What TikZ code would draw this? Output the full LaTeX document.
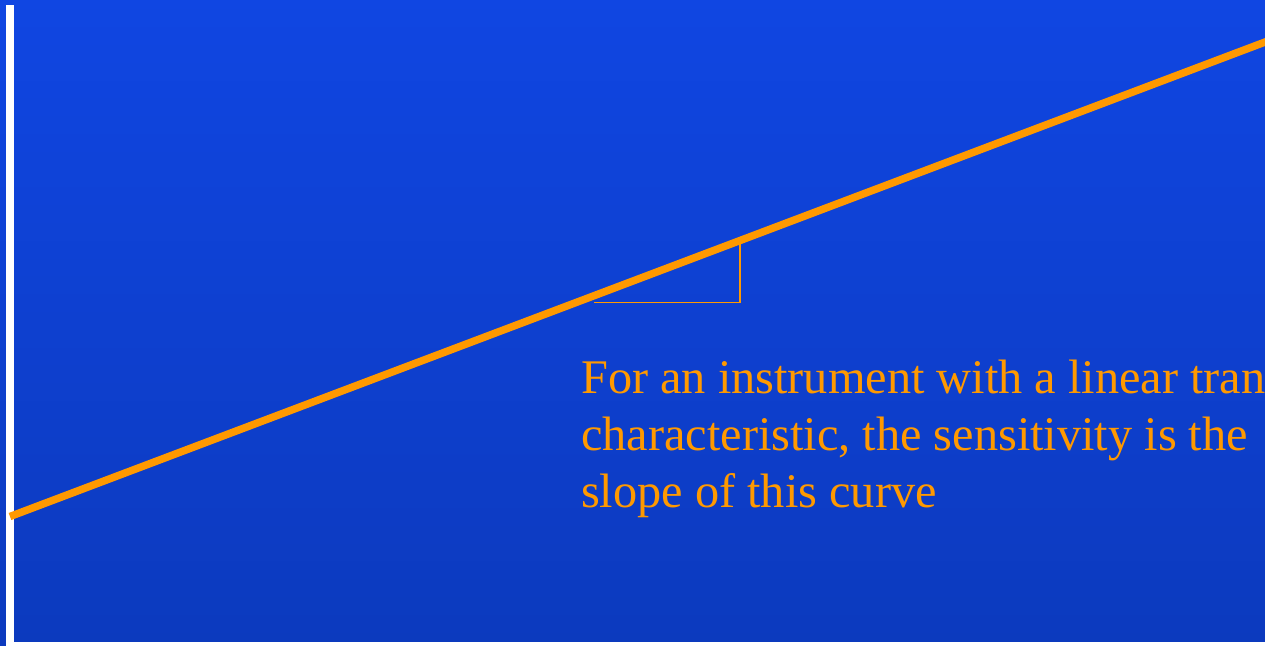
\documentclass[tikz,border=0pt]{standalone}
\usepackage{fontspec}
\setmainfont{Liberation Serif}
\definecolor{bgtop}{RGB}{16,70,226}
\definecolor{bgbot}{RGB}{12,58,190}
\definecolor{slideorange}{RGB}{255,153,0}
\tikzset{
  curveline/.style={slideorange, line width=7.5pt},
  slopeline/.style={slideorange, line width=1.8pt},
  captext/.style={slideorange, anchor=base west, align=left, inner sep=0pt,
    font=\fontsize{48.3}{57}\selectfont}
}
\begin{document}
\begin{tikzpicture}[x=1pt,y=-1pt]
\useasboundingbox (0,0) rectangle (1265,647);
\fill[white] (0,0) rectangle (1265,647);
\shade[top color=bgtop, bottom color=bgbot] (0,0) rectangle (1265,641);
\fill[bgbot] (0,641) rectangle (6,646);
\fill[white] (6,5) rectangle (13.5,643);
\begin{scope}
\clip (0,0) rectangle (1265,641);
\coordinate (c1) at (10,516.5);
\coordinate (c2) at (1285,34.5);
\draw[curveline] (c1) -- (c2);
\coordinate (t1) at (594,302.5);
\coordinate (t2) at (741,302.5);
\coordinate (t3) at (740,243);
\draw[slopeline] (t1) -- (t2);
\draw[slopeline] (t3) -- (740,302.5);
\node[captext] (txt) at (581,507) {For an instrument with a linear trans\\characteristic, the sensitivity is the\\slope of this curve};
\end{scope}
\end{tikzpicture}
\end{document}
